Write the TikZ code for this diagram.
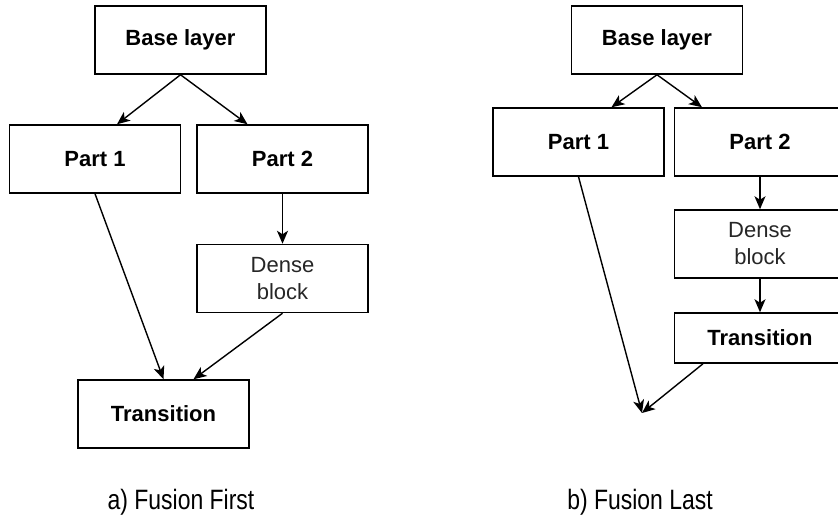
\documentclass[tikz,border=0pt]{standalone}
\usepackage{fontspec}
\setmainfont{Liberation Sans}
\usepackage{graphicx}
\usetikzlibrary{arrows.meta,calc}

\begin{document}
\begin{tikzpicture}[x=1pt,y=-1pt,
  block/.style={draw,line width=1.5pt,minimum width=171pt,minimum height=68pt,
                inner sep=0pt,align=center,font=\fontsize{22}{27}\selectfont\bfseries},
  dense/.style={block,font=\fontsize{22}{27}\selectfont,text=black!85},
  flow/.style={line width=1.4pt,-{Stealth[length=13pt,width=11pt,inset=3.5pt]}},
  caption/.style={font=\fontsize{28}{32}\selectfont},
]
\clip (0,0) rectangle (838,527);

% a) fusion first
\node[block] (base1) at (180.5,40) {Base layer};
\node[block] (part1a) at (95,159) {Part 1};
\node[block] (part2a) at (282.5,159) {Part 2};
\node[dense] (dense1) at (282.5,278.5) {Dense\\block};
\node[block] (trans1) at (163.5,414) {Transition};
\draw[flow] (base1.south) -- ($(part1a.north)+(22,0)$);
\draw[flow] (base1.south) -- ($(part2a.north)+(-35,0)$);
\draw[flow] (part2a) -- (dense1);
\draw[flow] (part1a.south) -- (trans1.north);
\draw[flow] (dense1.south) -- ($(trans1.north)+(30,0)$);
\node[caption] (capa) at (181,502) {\scalebox{0.82}[1]{a) Fusion First}};

% b) fusion last
\node[block] (base2) at (657,40) {Base layer};
\node[block] (part1b) at (578.5,142) {Part 1};
\node[block] (part2b) at (760,142) {Part 2};
\node[dense] (dense2) at (760,244) {Dense\\block};
\node[block,minimum height=50pt] (trans2) at (760,338) {Transition};
\coordinate (fuse) at (642,413);
\draw[flow] (base2.south) -- ($(part1b.north)+(33,0)$);
\draw[flow] (base2.south) -- ($(part2b.north)+(-58,0)$);
\draw[flow] (part2b) -- (dense2);
\draw[flow] (dense2) -- (trans2);
\draw[flow] (part1b.south) -- (fuse);
\draw[flow] ($(trans2.south)+(-57,0)$) -- (fuse);
\node[caption] (capb) at (640,502) {\scalebox{0.82}[1]{b) Fusion Last}};
\end{tikzpicture}
\end{document}
